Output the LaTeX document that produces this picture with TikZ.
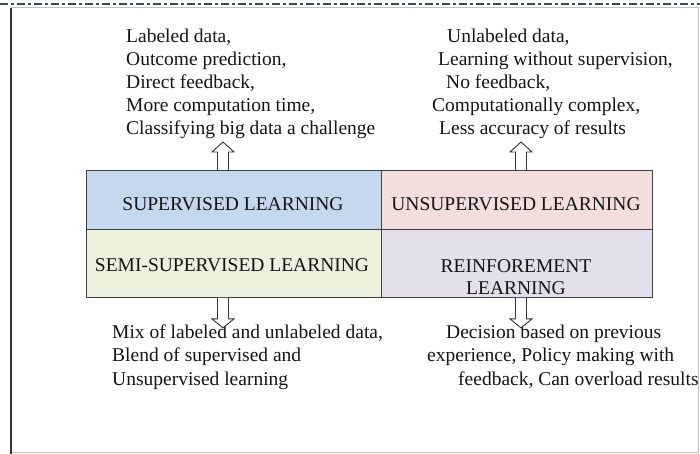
\documentclass[tikz,border=0pt]{standalone}
\usepackage{fontspec}
\setmainfont{Liberation Serif}
\definecolor{supblue}{HTML}{C6D8EE}
\definecolor{unspink}{HTML}{F2DEDC}
\definecolor{semigreen}{HTML}{EBF1DD}
\definecolor{reinlav}{HTML}{E4DFEC}
\definecolor{dashslate}{HTML}{3C4B5F}
\begin{document}
\begin{tikzpicture}[x=1pt,y=-1pt,
  txt/.style={anchor=base west, inner sep=0pt, font=\fontsize{19.5}{23}\selectfont, text=black!92},
  celltxt/.style={anchor=base, inner sep=0pt, font=\fontsize{19.5}{22}\selectfont, text=black!92},
  cell/.style={draw=black!75, line width=0.9pt, inner sep=0pt, anchor=north west},
  blockarrow/.style={draw=black!80, fill=white, line width=0.9pt, line join=miter},
  uparrow/.pic={\path[blockarrow] (-5.5,0) -- (-5.5,-18) -- (-11,-18) -- (0,-28) -- (11,-18) -- (5.5,-18) -- (5.5,0);},
  downarrow/.pic={\path[blockarrow] (-5.5,0) -- (-5.5,21) -- (-11,21) -- (0,30) -- (11,21) -- (5.5,21) -- (5.5,0);}]
\useasboundingbox (0,0) rectangle (700,454);

% page frame and dashed rule
\draw[black!25, line width=1pt] (11,8) -- (698,8) -- (698,452) -- (11,452);
\draw[black!80, line width=1.5pt] (11,8) -- (11,454);
\draw[dashslate, line width=1.7pt, dash pattern=on 8pt off 3pt on 3pt off 3pt] (0,4) -- (700,4);

% the four learning types
\node[cell, fill=supblue, minimum width=295pt, minimum height=59pt] (sup) at (86,170) {};
\node[cell, fill=unspink, minimum width=271pt, minimum height=59pt] (uns) at (381,170) {};
\node[cell, fill=semigreen, minimum width=295pt, minimum height=68pt] (semi) at (86,229) {};
\node[cell, fill=reinlav, minimum width=271pt, minimum height=68pt] (rein) at (381,229) {};

\node[celltxt] (supT) at (233,210) {SUPERVISED LEARNING};
\node[celltxt] (unsT) at (516,210) {UNSUPERVISED LEARNING};
\node[celltxt] (semiT) at (232,271) {SEMI-SUPERVISED LEARNING};
\node[celltxt] (reinT1) at (516,272) {REINFOREMENT};
\node[celltxt] (reinT2) at (516,294) {LEARNING};

% supervised characteristics
\node[txt] (s1) at (126,43) {Labeled data,};
\node[txt] (s2) at (126,66) {Outcome prediction,};
\node[txt] (s3) at (126,89) {Direct feedback,};
\node[txt] (s4) at (126,112) {More computation time,};
\node[txt] (s5) at (126,135) {Classifying big data a challenge};

% unsupervised characteristics
\node[txt] (u1) at (447,43) {Unlabeled data,};
\node[txt] (u2) at (438,66) {Learning without supervision,};
\node[txt] (u3) at (446,89) {No feedback,};
\node[txt] (u4) at (432,112) {Computationally complex,};
\node[txt] (u5) at (439,135) {Less accuracy of results};

% semi-supervised characteristics
\node[txt] (m1) at (112,338) {Mix of labeled and unlabeled data,};
\node[txt] (m2) at (112,361) {Blend of supervised and};
\node[txt] (m3) at (112,385) {Unsupervised learning};

% reinforcement characteristics
\node[txt] (r1) at (446,338) {Decision based on previous};
\node[txt] (r2) at (427,361) {experience, Policy making with};
\node[txt] (r3) at (458,385) {feedback, Can overload results};

% hollow arrows from each type to its characteristics
\pic at (sup.north -| 223,0) {uparrow};
\pic at (uns.north -| 521,0) {uparrow};
\pic at (semi.south -| 223,0) {downarrow};
\pic at (rein.south -| 521,0) {downarrow};
\end{tikzpicture}
\end{document}
